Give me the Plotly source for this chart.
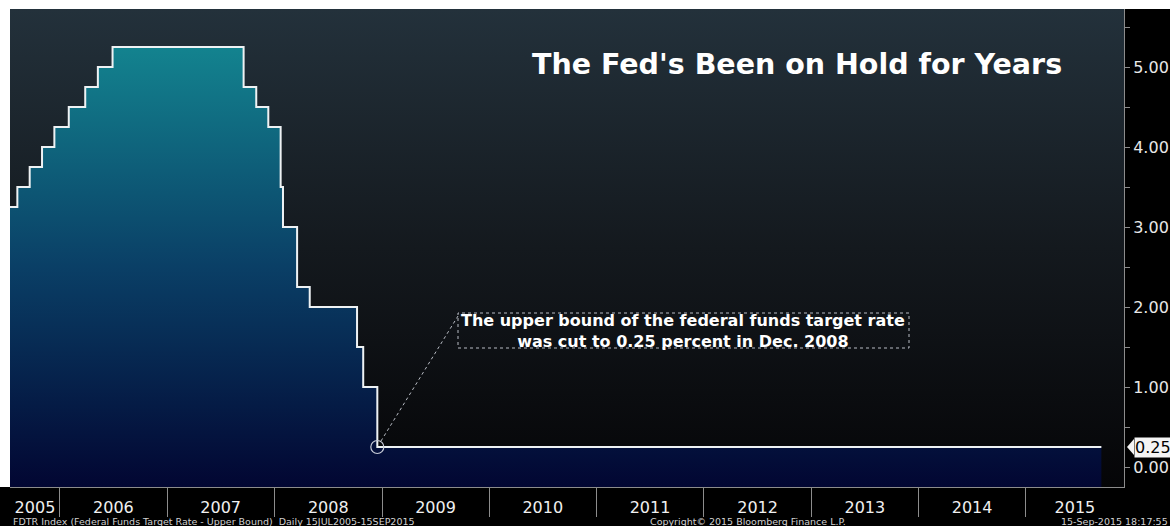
import base64
from datetime import date
import plotly.graph_objects as go

# ---------------- data ----------------
change_dates = ["2005-07-15", "2005-08-09", "2005-09-20", "2005-11-01", "2005-12-13",
                "2006-01-31", "2006-03-28", "2006-05-10", "2006-06-29", "2007-09-18",
                "2007-10-31", "2007-12-11", "2008-01-22", "2008-01-30", "2008-03-18",
                "2008-04-30", "2008-10-08", "2008-10-29", "2008-12-16", "2015-09-15"]
rates = [3.25, 3.50, 3.75, 4.00, 4.25, 4.50, 4.75, 5.00, 5.25, 4.75,
         4.50, 4.25, 3.50, 3.00, 2.25, 2.00, 1.50, 1.00, 0.25, 0.25]
year_labels = ["2005", "2006", "2007", "2008", "2009", "2010",
               "2011", "2012", "2013", "2014", "2015"]
y_ticks = [0, 1, 2, 3, 4, 5]
cut_index = 18  # Dec. 2008 cut to 0.25

title_text = "The Fed's Been on Hold for Years"
note_text = "The upper bound of the federal funds target rate<br>was cut to 0.25 percent in Dec. 2008"
footer_left = "FDTR Index (Federal Funds Target Rate - Upper Bound)  Daily 15JUL2005-15SEP2015"
footer_mid = "Copyright\u00a9 2015 Bloomberg Finance L.P."
footer_right = "15-Sep-2015 18:17:55"

# ---------------- layout geometry ----------------
W, H = 1170, 526
ML, MR, MT, MB = 10, 46, 9, 39
PW, PH = W - ML - MR, H - MT - MB
X_START, X_END = "2005-07-15", "2015-12-01"
Y_MIN, Y_MAX = -0.25, 5.725


def d(s):
    return date.fromisoformat(s)


TOTAL_DAYS = (d(X_END) - d(X_START)).days


def px_x(px):
    return (px - ML) / PW


def px_y(py):
    return (H - MB - py) / PH


def date_paper(s):
    return (d(s) - d(X_START)).days / TOTAL_DAYS


# year label positions: middle of the visible part of each year
tick_positions = []
for lab in year_labels:
    y = int(lab)
    a = max(d(f"{y}-01-01"), d(X_START))
    b = min(d(f"{y + 1}-01-01"), d(X_END))
    mid = a + (b - a) / 2
    tick_positions.append(mid.isoformat())

# ---------------- background gradient (svg image) ----------------
svg = ('<svg xmlns="http://www.w3.org/2000/svg" width="100" height="100" preserveAspectRatio="none">'
       '<defs><linearGradient id="g" x1="0" y1="0" x2="0" y2="1">'
       '<stop offset="0" stop-color="#23313b"/><stop offset="0.5" stop-color="#14191e"/>'
       '<stop offset="1" stop-color="#050507"/></linearGradient></defs>'
       '<rect width="100" height="100" fill="url(#g)"/></svg>')
svg_uri = "data:image/svg+xml;base64," + base64.b64encode(svg.encode()).decode()

fig = go.Figure()

# baseline for the fill (bottom of the axis range)
fig.add_trace(go.Scatter(
    x=[change_dates[0], change_dates[-1]], y=[Y_MIN, Y_MIN],
    mode="lines", line=dict(width=0, color="rgba(0,0,0,0)"),
    hoverinfo="skip", showlegend=False))

fig.add_trace(go.Scatter(
    x=change_dates, y=rates, mode="lines",
    line=dict(shape="hv", color="#eef2f4", width=2),
    fill="tonexty",
    fillgradient=dict(type="vertical",
                      colorscale=[[0, "#020632"], [0.5, "#0a3f66"], [1, "#13838f"]]),
    showlegend=False))

fig.add_trace(go.Scatter(
    x=[change_dates[cut_index]], y=[rates[cut_index]], mode="markers",
    marker=dict(symbol="circle-open", size=13, color="#c8ccd8", line=dict(width=1.2)),
    showlegend=False))

# ---------------- annotation box & leader ----------------
box_x0, box_x1, box_y0, box_y1 = 458, 909, 313, 348
corner_px = (458, 316)
cut_px = (ML + date_paper(change_dates[cut_index]) * PW,
          H - MB - (rates[cut_index] - Y_MIN) / (Y_MAX - Y_MIN) * PH)
dx, dy = corner_px[0] - cut_px[0], corner_px[1] - cut_px[1]
L = (dx * dx + dy * dy) ** 0.5
start_px = (cut_px[0] + dx / L * 7, cut_px[1] + dy / L * 7)

shapes = [
    dict(type="line", xref="paper", yref="paper",
         x0=px_x(start_px[0]), y0=px_y(start_px[1]),
         x1=px_x(corner_px[0]), y1=px_y(corner_px[1]),
         line=dict(color="#b8bcc4", width=1, dash="dot")),
    dict(type="rect", xref="paper", yref="paper",
         x0=px_x(box_x0), x1=px_x(box_x1), y0=px_y(box_y1), y1=px_y(box_y0),
         line=dict(color="#b8bcc4", width=1, dash="dot")),
    # white page strips at top and left
    dict(type="rect", xref="paper", yref="paper", x0=px_x(0), x1=px_x(W),
         y0=1, y1=px_y(0), line=dict(width=0), fillcolor="white"),
    dict(type="rect", xref="paper", yref="paper", x0=px_x(0), x1=0,
         y0=0, y1=px_y(0), line=dict(width=0), fillcolor="white"),
    # pointer of the last-value tag
    dict(type="path", xref="paper", yref="y",
         path=(f"M {px_x(1127)},{rates[-1]} L {px_x(1134)},{rates[-1] + 8 / 80} "
               f"L {px_x(1134)},{rates[-1] - 8 / 80} Z"),
         line=dict(width=0), fillcolor="#f4f4f4"),
]

annotations = [
    dict(text=title_text, xref="paper", yref="paper", x=px_x(797), y=px_y(64),
         showarrow=False, xanchor="center", yanchor="middle",
         font=dict(family="DejaVu Sans", size=28.5, color="white", weight="bold")),
    dict(text=note_text, xref="paper", yref="paper", x=px_x(683), y=px_y(331),
         showarrow=False, xanchor="center", yanchor="middle", align="center",
         font=dict(family="DejaVu Sans", size=16, color="white", weight="bold")),
    dict(text=f"{rates[-1]:.2f}", xref="paper", yref="y", x=px_x(1134), y=rates[-1],
         showarrow=False, xanchor="left", yanchor="middle", bgcolor="#f4f4f4",
         borderpad=0, font=dict(family="DejaVu Sans", size=16, color="black")),
    dict(text=footer_left, xref="paper", yref="paper", x=px_x(11), y=px_y(521.5),
         showarrow=False, xanchor="left", yanchor="middle",
         font=dict(family="DejaVu Sans", size=9.5, color="#d0d0d0")),
    dict(text=footer_mid, xref="paper", yref="paper", x=px_x(648), y=px_y(521.5),
         showarrow=False, xanchor="left", yanchor="middle",
         font=dict(family="DejaVu Sans", size=9.5, color="#d0d0d0")),
    dict(text=footer_right, xref="paper", yref="paper", x=px_x(1170), y=px_y(521.5),
         showarrow=False, xanchor="right", yanchor="middle",
         font=dict(family="DejaVu Sans", size=9.5, color="#d0d0d0")),
]

fig.update_layout(
    width=W, height=H,
    margin=dict(l=ML, r=MR, t=MT, b=MB, pad=0, autoexpand=False),
    paper_bgcolor="black", plot_bgcolor="#0a0c10",
    showlegend=False,
    images=[dict(source=svg_uri, xref="paper", yref="paper", x=0, y=1,
                 sizex=1, sizey=1, sizing="stretch", xanchor="left", yanchor="top",
                 layer="below")],
    shapes=shapes,
    annotations=annotations,
    xaxis=dict(type="date", range=[X_START, X_END], showgrid=False, zeroline=False,
               automargin=False,
               tickmode="array", tickvals=tick_positions, ticktext=year_labels,
               ticks="", ticklabelstandoff=6,
               tickfont=dict(family="DejaVu Sans", size=16, color="#f0f0f0"),
               showline=True, linecolor="#8c8c8c", linewidth=1,
               minor=dict(tickmode="linear", tick0="2005-01-01", dtick="M12",
                          ticks="outside", ticklen=29, tickcolor="#8c8c8c", tickwidth=1,
                          showgrid=False)),
    yaxis=dict(side="right", range=[Y_MIN, Y_MAX], showgrid=False, zeroline=False,
               automargin=False,
               tickmode="array", tickvals=y_ticks, tickformat=".2f",
               ticks="outside", ticklen=5, tickcolor="#8c8c8c",
               tickfont=dict(family="DejaVu Sans", size=16, color="#e8e8e8"),
               showline=True, linecolor="#8c8c8c", linewidth=1,
               minor=dict(tickmode="linear", tick0=0.5, dtick=1, ticks="outside",
                          ticklen=5, tickcolor="#8c8c8c", showgrid=False)),
)

fig.write_html("out.html")
